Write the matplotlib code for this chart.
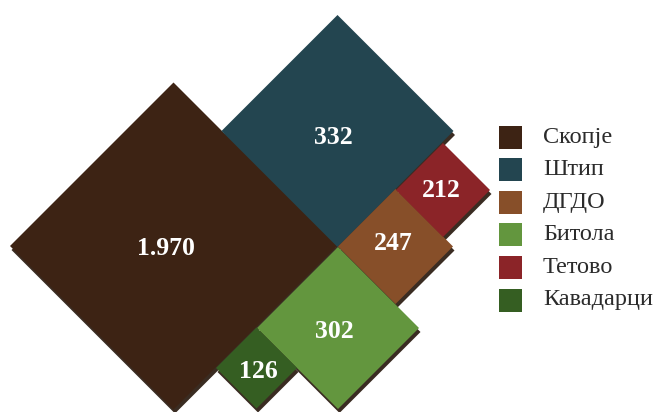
import matplotlib
matplotlib.use("Agg")
import matplotlib.pyplot as plt
from matplotlib.patches import Polygon, Rectangle

# Data
cities = ['Скопје', 'Штип', 'ДГДО', 'Битола', 'Тетово', 'Кавадарци']
values = [1970, 332, 247, 302, 212, 126]
value_labels = ['1.970', '332', '247', '302', '212', '126']
colors = ['#3d2314', '#234550', '#874f29', '#63963e', '#8b2428', '#355e22']

# Layout (pixel space): diamond centres and half-diagonals
centers = [(173.5, 246), (337.5, 131), (395.5, 246.5), (338, 328), (443, 190), (256.5, 368)]
halves = [163.5, 116, 57.5, 81, 47, 40.5]
label_pos = [(166, 248), (333, 137), (393, 243), (334, 332), (441, 190), (258, 372)]

W, H = 658, 412
fig = plt.figure(figsize=(W / 100, H / 100), dpi=100)
ax = fig.add_axes([0, 0, 1, 1])
ax.set_xlim(0, W)
ax.set_ylim(H, 0)
ax.axis('off')

shadow = '#3a2c22'
sdx, sdy = 1.5, 4


def diamond(cx, cy, h):
    return [(cx - h, cy), (cx, cy - h), (cx + h, cy), (cx, cy + h)]


for (cx, cy), h in zip(centers, halves):
    ax.add_patch(Polygon(diamond(cx + sdx, cy + sdy, h), closed=True,
                         facecolor=shadow, edgecolor='none', zorder=1))
for (cx, cy), h, c in zip(centers, halves, colors):
    ax.add_patch(Polygon(diamond(cx, cy, h), closed=True,
                         facecolor=c, edgecolor='none', zorder=2))

for (lx, ly), t in zip(label_pos, value_labels):
    ax.text(lx, ly, t, ha='center', va='center', color='white',
            fontsize=18.5, fontweight='semibold', family='Liberation Serif', zorder=3)

# Legend
lx0, ly0, dy, sq = 499, 137, 32.6, 23
for i, (name, c) in enumerate(zip(cities, colors)):
    y = ly0 + i * dy
    ax.add_patch(Rectangle((lx0, y - sq / 2), sq, sq, facecolor=c,
                           edgecolor='none', zorder=2))
    ax.text(543, y, name, ha='left', va='center', color='#2b2b2b',
            fontsize=17.5, family='Liberation Serif', zorder=3)

fig.savefig('out.png', dpi=100)
